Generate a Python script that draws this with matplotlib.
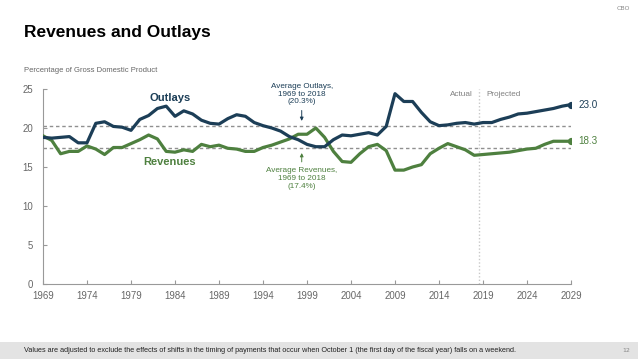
import matplotlib
matplotlib.use("Agg")
import matplotlib.pyplot as plt
from matplotlib.patches import Rectangle
from matplotlib import font_manager as fm

years = list(range(1969, 2030))
outlays = [18.8, 18.7, 18.8, 18.9, 18.1, 18.1, 20.6, 20.8, 20.2, 20.1,
           19.7, 21.1, 21.6, 22.5, 22.8, 21.5, 22.2, 21.8, 21.0, 20.6,
           20.5, 21.2, 21.7, 21.5, 20.7, 20.3, 20.0, 19.6, 18.9, 18.5,
           17.9, 17.6, 17.6, 18.5, 19.1, 19.0, 19.2, 19.4, 19.1, 20.2,
           24.4, 23.4, 23.4, 22.0, 20.8, 20.3, 20.4, 20.6, 20.7, 20.5,
           20.7, 20.7, 21.1, 21.4, 21.8, 21.9, 22.1, 22.3, 22.5, 22.8, 23.0]
revenues = [19.0, 18.4, 16.7, 17.0, 17.0, 17.7, 17.3, 16.6, 17.5, 17.5,
            18.0, 18.5, 19.1, 18.6, 17.0, 16.9, 17.2, 17.0, 17.9, 17.6,
            17.8, 17.4, 17.3, 17.0, 17.0, 17.5, 17.8, 18.2, 18.6, 19.2,
            19.2, 20.0, 18.8, 17.0, 15.7, 15.6, 16.7, 17.6, 17.9, 17.1,
            14.6, 14.6, 15.0, 15.3, 16.7, 17.4, 18.0, 17.6, 17.2, 16.5,
            16.6, 16.7, 16.8, 16.9, 17.1, 17.3, 17.4, 17.9, 18.3, 18.3, 18.3]
avg_outlays = 20.3
avg_revenues = 17.4
xticks = list(range(1969, 2030, 5))
yticks = [0, 5, 10, 15, 20, 25]

names = {f.name for f in fm.fontManager.ttflist}
if "Liberation Sans Narrow" in names:
    NARROW, k = "Liberation Sans Narrow", 1.0
else:
    NARROW, k = "Liberation Sans", 0.84

c_out = "#1c3e57"
c_rev = "#4e803f"
gray = "#808080"

fig = plt.figure(figsize=(6.38, 3.59), dpi=100)
fig.patch.set_facecolor("white")
ax = fig.add_axes([43/638, 1-284/359, (571-43)/638, (284-89)/359])

ax.axhline(avg_outlays, color="#909090", ls=(0, (2.5, 2)), lw=1.0, zorder=1)
ax.axhline(avg_revenues, color="#909090", ls=(0, (2.5, 2)), lw=1.0, zorder=1)
ax.axvline(2018.6, color="#c8c8c8", ls=(0, (1, 1.5)), lw=1.0, zorder=1)

ax.plot(years, revenues, color=c_rev, lw=2.3, zorder=3, solid_joinstyle="round")
ax.plot(years, outlays, color=c_out, lw=2.3, zorder=4, solid_joinstyle="round")
ax.plot([years[-1]], [outlays[-1]], "o", color=c_out, ms=4.2, zorder=5)
ax.plot([years[-1]], [revenues[-1]], "o", color=c_rev, ms=4.2, zorder=5)

ax.set_xlim(1969, 2029)
ax.set_ylim(0, 25)
ax.set_xticks(xticks)
ax.set_yticks(yticks)
ax.tick_params(axis="both", direction="in", length=3, color="#999999",
               labelcolor="#666666", labelsize=8.3 * k, width=0.8)
ax.tick_params(axis="x", pad=5)
ax.tick_params(axis="y", pad=7)
for lbl in ax.get_xticklabels() + ax.get_yticklabels():
    lbl.set_family(NARROW)
for s in ["top", "right"]:
    ax.spines[s].set_visible(False)
for s in ["left", "bottom"]:
    ax.spines[s].set_color("#999999")
    ax.spines[s].set_linewidth(0.8)

ax.text(1983.4, 23.9, "Outlays", color=c_out, fontsize=8, fontweight="bold",
        ha="center", va="center", family="Liberation Sans")
ax.text(1983.4, 15.6, "Revenues", color=c_rev, fontsize=8, fontweight="bold",
        ha="center", va="center", family="Liberation Sans")

ax.text(1998.4, 22.9, "Average Outlays,\n1969 to 2018\n(20.3%)", color=c_out,
        fontsize=7 * k, ha="center", va="bottom", linespacing=1.15, family=NARROW)
ax.annotate("", xy=(1998.4, 20.55), xytext=(1998.4, 22.6),
            arrowprops=dict(arrowstyle="-|>", color=c_out, lw=0.7, mutation_scale=5))
ax.text(1998.4, 15.0, "Average Revenues,\n1969 to 2018\n(17.4%)", color=c_rev,
        fontsize=7 * k, ha="center", va="top", linespacing=1.15, family=NARROW)
ax.annotate("", xy=(1998.4, 17.15), xytext=(1998.4, 15.3),
            arrowprops=dict(arrowstyle="-|>", color=c_rev, lw=0.7, mutation_scale=5))

ax.text(2017.8, 24.3, "Actual", color=gray, fontsize=7 * k, ha="right", va="center",
        family=NARROW)
ax.text(2019.4, 24.3, "Projected", color=gray, fontsize=7 * k, ha="left", va="center",
        family=NARROW)

ax.text(2029.8, outlays[-1], f"{outlays[-1]:.1f}", color=c_out, fontsize=8.5 * k,
        ha="left", va="center", family=NARROW)
ax.text(2029.8, revenues[-1], f"{revenues[-1]:.1f}", color=c_rev, fontsize=8.5 * k,
        ha="left", va="center", family=NARROW)

fig.text(24/638, 1-33/359, "Revenues and Outlays", fontsize=12.5, fontweight="heavy",
         color="black", ha="left", va="center", family="Liberation Sans")
fig.text(24/638, 1-70/359, "Percentage of Gross Domestic Product", fontsize=6.5 * k,
         color="#666666", ha="left", va="center", family=NARROW)
fig.text(630/638, 1-9/359, "CBO", fontsize=4.5, color="#888888", ha="right", va="center")

fig.patches.append(Rectangle((0, 0), 1, 17/359, transform=fig.transFigure,
                             facecolor="#e3e3e3", edgecolor="none", zorder=0))
fig.text(24/638, 8.5/359, "Values are adjusted to exclude the effects of shifts in the timing of payments "
         "that occur when October 1 (the first day of the fiscal year) falls on a weekend.",
         fontsize=5.2, color="#222222", ha="left", va="center", family="Liberation Sans")
fig.text(630/638, 8.5/359, "12", fontsize=4.5, color="#888888", ha="right", va="center")

fig.savefig("out.png", dpi=100)
